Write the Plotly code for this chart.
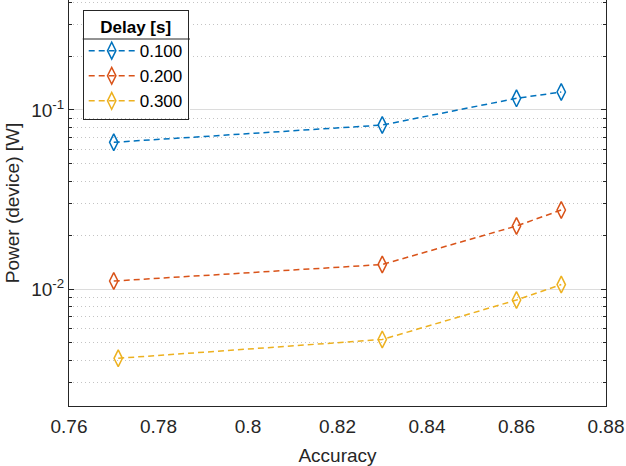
import plotly.graph_objects as go
import numpy as np

# Data
accuracy_100 = [0.770, 0.830, 0.860, 0.870]
power_100 = [0.0660, 0.0824, 0.1162, 0.1260]
accuracy_200 = [0.770, 0.830, 0.860, 0.870]
power_200 = [0.01108, 0.01370, 0.02249, 0.02763]
accuracy_300 = [0.771, 0.830, 0.860, 0.870]
power_300 = [0.004101, 0.005222, 0.008680, 0.01059]
series_names = ["0.100", "0.200", "0.300"]
colors = ["#0072BD", "#D95319", "#EDB120"]
x_ticks = [0.76, 0.78, 0.80, 0.82, 0.84, 0.86, 0.88]
x_ticklabels = ["0.76", "0.78", "0.8", "0.82", "0.84", "0.86", "0.88"]
y_ticks = [0.01, 0.1]
y_ticklabels = ["10<sup>-2</sup>", "10<sup>-1</sup>"]

FONT = "Liberation Sans, Arial, sans-serif"
TXT = "#262626"

# plot area in pixels: x 69..606, y 0..406
def px_x(p):
    return (p - 69) / 537.0

def px_y(p):
    return (406 - p) / 406.0

fig = go.Figure()
for xs, ys, name, c in zip([accuracy_100, accuracy_200, accuracy_300],
                           [power_100, power_200, power_300],
                           series_names, colors):
    fig.add_trace(go.Scatter(
        x=xs, y=ys, name=name, mode="lines+markers",
        line=dict(color=c, width=1.5, dash="6px,4px"),
        marker=dict(symbol="diamond-tall-open", size=12, color=c,
                    line=dict(color=c, width=1.5)),
    ))

box_l, box_r, box_t = 82.7, 190, 10
fig.update_layout(
    width=626, height=466,
    margin=dict(l=69, r=20, t=0, b=60, autoexpand=False),
    paper_bgcolor="white", plot_bgcolor="white",
    font=dict(family=FONT, size=19, color=TXT),
    showlegend=True,
    legend=dict(
        x=px_x(box_l), y=px_y(box_t), xanchor="left", yanchor="top",
        bgcolor="rgba(0,0,0,0)", bordercolor=TXT, borderwidth=1,
        font=dict(family=FONT, size=17, color="black"),
        title=dict(text="<b>Delay [s]</b>", side="top center",
                   font=dict(family=FONT, size=17, color="black")),
        itemwidth=46, tracegroupgap=0,
    ),
    shapes=[
        dict(type="rect", xref="paper", yref="paper",
             x0=px_x(box_l), x1=px_x(box_r), y0=px_y(118), y1=px_y(box_t),
             fillcolor="white", line=dict(width=0), layer="above"),
        dict(type="line", xref="paper", yref="paper",
             x0=px_x(box_l), x1=px_x(box_r), y0=px_y(39), y1=px_y(39),
             line=dict(color=TXT, width=1), layer="above"),
    ],
)
fig.update_xaxes(
    range=[0.76, 0.88], tickvals=x_ticks, ticktext=x_ticklabels,
    showgrid=False, zeroline=False, automargin=False,
    showline=True, linecolor=TXT, linewidth=1, mirror=False,
    ticks="", ticklabelstandoff=3, tickfont=dict(size=19, color=TXT),
    title=dict(text="Accuracy", font=dict(size=19, color=TXT), standoff=12),
)
fig.update_yaxes(
    type="log", range=[np.log10(0.00222), np.log10(0.4116)],
    tickvals=y_ticks, ticktext=y_ticklabels, automargin=False,
    showgrid=True, gridcolor="#dcdcdc", gridwidth=1, zeroline=False,
    showline=True, linecolor=TXT, linewidth=1, mirror="ticks",
    ticks="inside", ticklen=5, tickcolor=TXT,
    tickfont=dict(size=19, color=TXT),
    minor=dict(dtick="D1", ticks="inside", ticklen=3, tickcolor=TXT,
               showgrid=True, gridcolor="#c4c4c4", griddash="1px,3px", gridwidth=1),
    title=dict(text="Power (device) [W]", font=dict(size=19, color=TXT), standoff=6),
)

fig.write_html("out.html", config={"displayModeBar": False},
               post_script="document.body.style.margin='0';document.body.style.padding='0';")
